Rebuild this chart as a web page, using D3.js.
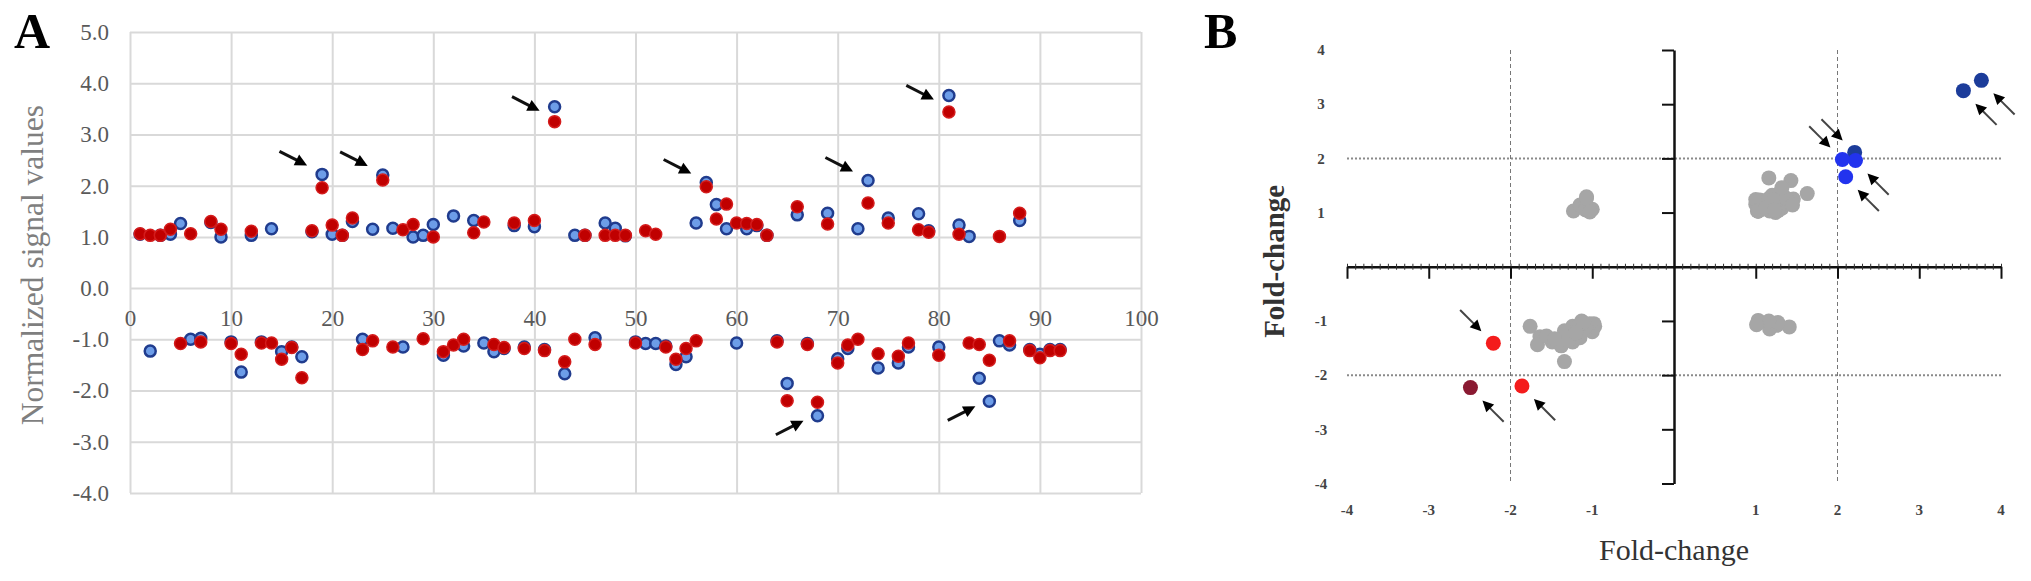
<!DOCTYPE html>
<html>
<head>
<meta charset="utf-8">
<script src="https://cdn.jsdelivr.net/npm/d3@7"></script>
<style>
  body { margin: 0; background: #fff; }
  svg text { font-family: "Liberation Serif", "Times New Roman", serif; }
</style>
</head>
<body>
<div id="graph"></div>
<script>
// probe number on the x axis of panel A
const probes = [1,2,3,4,5,6,7,8,9,10,11,12,13,14,15,16,17,18,19,20,21,22,23,24,25,26,27,28,29,30,
  31,32,33,34,35,36,37,38,39,40,41,42,43,44,45,46,47,48,49,50,51,52,53,54,55,56,57,58,59,60,
  61,62,63,64,65,66,67,68,69,70,71,72,73,74,75,76,77,78,79,80,81,82,83,84,85,86,87,88,89,90,91,92];

// blue series (also x of panel B)
const blueValues = [1.05,-1.23,1.03,1.05,1.26,-1.00,-0.98,1.28,1.00,-1.05,-1.64,1.03,-1.05,1.16,-1.24,-1.15,-1.34,1.10,2.22,1.05,
  1.03,1.30,-1.00,1.15,2.21,1.17,-1.15,1.00,1.03,1.24,-1.31,1.41,-1.13,1.32,-1.07,-1.24,-1.18,1.22,-1.15,1.20,
  -1.20,3.54,-1.67,1.03,1.03,-0.97,1.27,1.17,1.02,-1.05,-1.08,-1.08,-1.13,-1.49,-1.34,1.27,2.06,1.63,1.16,-1.07,
  1.16,1.22,1.03,-1.03,-1.86,1.43,-1.08,-2.49,1.46,-1.38,-1.18,1.16,2.10,-1.56,1.37,-1.46,-1.15,1.45,1.12,-1.15,
  3.76,1.23,1.01,-1.76,-2.21,-1.03,-1.11,1.32,-1.20,-1.29,-1.20,-1.20];

// red series (also y of panel B)
const redValues = [1.06,1.03,1.03,1.15,-1.08,1.06,-1.05,1.30,1.15,-1.08,-1.29,1.11,-1.07,-1.07,-1.39,-1.16,-1.75,1.12,1.96,1.23,
  1.03,1.37,-1.20,-1.03,2.11,-1.15,1.14,1.24,-0.99,1.00,-1.24,-1.11,-1.00,1.08,1.29,-1.10,-1.16,1.27,-1.18,1.32,
  -1.22,3.25,-1.44,-1.00,1.03,-1.10,1.03,1.03,1.03,-1.07,1.12,1.05,-1.15,-1.39,-1.18,-1.03,1.98,1.35,1.64,1.27,
  1.26,1.24,1.03,-1.05,-2.20,1.59,-1.10,-2.23,1.25,-1.46,-1.11,-1.00,1.66,-1.28,1.27,-1.33,-1.07,1.14,1.09,-1.31,
  3.44,1.05,-1.07,-1.10,-1.41,1.01,-1.03,1.46,-1.22,-1.36,-1.22,-1.22];

const xTicksA = [0,10,20,30,40,50,60,70,80,90,100];
const yTicksA = [-4,-3,-2,-1,0,1,2,3,4,5];
const ticksB = [-4,-3,-2,-1,1,2,3,4];
const cutoffsB = [-2,2];

// highlighted probes in panel B
const bothChanged = [25,42,68,81];
const oneChanged = [19,57,65,73,85];

// arrows: probe, kind
const arrowsA = [[19,"down"],[25,"down"],[42,"flat"],[57,"down"],[73,"down"],[81,"flat"],[68,"up"],[85,"up"]];
const arrowsB = [[81,"se"],[42,"se"],[25,"nw"],[57,"nw"],[19,"se"],[73,"se"],[85,"nw"],[68,"se"],[65,"se"]];

(function() {
    const width = 2031, height = 581;

    const svg = d3.select("#graph")
        .append("svg")
        .attr("width", width)
        .attr("height", height);

    svg.append("rect").attr("width", width).attr("height", height).attr("fill", "#fff");

    function arrow(g, tx, ty, angle, len, head, half, sw, col) {
        const a = angle * Math.PI / 180, ux = Math.cos(a), uy = Math.sin(a);
        const bx = tx - head * ux, by = ty - head * uy;
        g.append("line")
            .attr("x1", tx - len * ux).attr("y1", ty - len * uy)
            .attr("x2", bx + ux).attr("y2", by + uy)
            .attr("stroke", col).attr("stroke-width", sw);
        g.append("polygon")
            .attr("points", [[tx, ty], [bx - half * uy, by + half * ux], [bx + half * uy, by - half * ux]].join(" "))
            .attr("fill", "#000");
    }

    // ---------- panel A ----------
    const xA = d3.scaleLinear().domain([0, 100]).range([130, 1141]);
    const yA = d3.scaleLinear().domain([-4, 5]).range([493, 32]);

    const gA = svg.append("g");

    // vertical gridlines
    gA.append("g")
        .attr("transform", "translate(0," + yA(-4) + ")")
        .call(d3.axisBottom(xA).tickValues(xTicksA).tickSize(-(yA(-4) - yA(5))).tickFormat(""))
        .call(g => g.select(".domain").remove())
        .call(g => g.selectAll("line").attr("stroke", "#d9d9d9").attr("stroke-width", 2));

    // horizontal gridlines + labels
    gA.append("g")
        .attr("transform", "translate(" + xA(0) + ",0)")
        .call(d3.axisLeft(yA).tickValues(yTicksA).tickSize(-(xA(100) - xA(0))).tickPadding(21)
            .tickFormat(d => d.toFixed(1)))
        .call(g => g.select(".domain").remove())
        .call(g => g.selectAll("line").attr("stroke", "#d9d9d9").attr("stroke-width", 2))
        .call(g => g.selectAll("text").attr("font-size", 23).attr("fill", "#595959")
            .style("font-family", "Liberation Serif"));

    // x labels sit next to the zero line
    gA.append("g")
        .attr("transform", "translate(0," + yA(0) + ")")
        .call(d3.axisBottom(xA).tickValues(xTicksA).tickSize(0).tickPadding(22))
        .call(g => g.select(".domain").remove())
        .call(g => g.selectAll("text").attr("font-size", 23).attr("fill", "#595959")
            .style("font-family", "Liberation Serif"));

    gA.append("text")
        .attr("transform", "translate(43," + yA(0.45) + ") rotate(-90)")
        .attr("text-anchor", "middle")
        .attr("font-size", 31.5)
        .attr("fill", "#7f7f7f")
        .text("Normalized signal values");

    gA.append("text")
        .attr("x", 14).attr("y", 48)
        .attr("font-size", 50).attr("font-weight", "bold")
        .text("A");

    gA.selectAll(".blue")
        .data(probes)
        .enter()
        .append("circle")
        .attr("class", "blue")
        .attr("cx", (d) => xA(d))
        .attr("cy", (d, i) => yA(blueValues[i]))
        .attr("r", 5.5)
        .attr("fill", "#6d9de8")
        .attr("stroke", "#203c8e")
        .attr("stroke-width", 2.5);

    gA.selectAll(".red")
        .data(probes)
        .enter()
        .append("circle")
        .attr("class", "red")
        .attr("cx", (d) => xA(d))
        .attr("cy", (d, i) => yA(redValues[i]))
        .attr("r", 6)
        .attr("fill", "#c00000")
        .attr("stroke", "#d41c1c")
        .attr("stroke-width", 1.5);

    const kindsA = {down: [-15, -9, 27], flat: [-15, 4, 27], up: [-14, 5, -27]};
    arrowsA.forEach(([p, kind]) => {
        const k = kindsA[kind];
        arrow(gA, xA(p) + k[0], yA(blueValues[p - 1]) + k[1], k[2], 31, 12, 6, 3, "#111");
    });

    // ---------- panel B ----------
    const xB = d3.scaleLinear().domain([-4, 4]).range([1347, 2001]);
    const yB = d3.scaleLinear().domain([-4, 4]).range([483.5, 50]);

    const gB = svg.append("g");

    // cutoff lines
    gB.selectAll(".vcut")
        .data(cutoffsB)
        .enter()
        .append("line")
        .attr("x1", d => xB(d)).attr("x2", d => xB(d))
        .attr("y1", yB(4)).attr("y2", yB(-4))
        .attr("stroke", "#777").attr("stroke-width", 1).attr("stroke-dasharray", "4,3");

    gB.selectAll(".hcut")
        .data(cutoffsB)
        .enter()
        .append("line")
        .attr("x1", xB(-4)).attr("x2", xB(4))
        .attr("y1", d => yB(d)).attr("y2", d => yB(d))
        .attr("stroke", "#8a8a8a").attr("stroke-width", 2).attr("stroke-dasharray", "2,2");

    // horizontal axis with minor ticks
    gB.append("g")
        .attr("transform", "translate(0," + yB(0) + ")")
        .call(d3.axisBottom(xB).ticks(80).tickSize(3).tickSizeOuter(0).tickFormat(""))
        .call(g => g.selectAll("line").attr("stroke", "#333").attr("stroke-width", 1).attr("y1", -3))
        .call(g => g.select(".domain").attr("stroke", "#111").attr("stroke-width", 2.5));

    gB.append("g")
        .attr("transform", "translate(0," + yB(0) + ")")
        .call(d3.axisBottom(xB).tickValues(ticksB).tickSize(12).tickSizeOuter(0).tickFormat(""))
        .call(g => g.select(".domain").remove())
        .call(g => g.selectAll("line").attr("stroke", "#111").attr("stroke-width", 2));

    // vertical axis
    gB.append("g")
        .attr("transform", "translate(" + xB(0) + ",0)")
        .call(d3.axisLeft(yB).tickValues(ticksB).tickSize(12).tickSizeOuter(0).tickFormat(""))
        .call(g => g.select(".domain").attr("stroke", "#111").attr("stroke-width", 2.5))
        .call(g => g.selectAll("line").attr("stroke", "#111").attr("stroke-width", 2));

    gB.selectAll(".ylab")
        .data(ticksB)
        .enter()
        .append("text")
        .attr("x", 1321)
        .attr("y", d => yB(d))
        .attr("dy", "0.35em")
        .attr("text-anchor", "middle")
        .attr("font-size", 15).attr("font-weight", "bold").attr("fill", "#444")
        .text(d => d < 0 ? "-" + Math.abs(d) : d);

    gB.selectAll(".xlab")
        .data(ticksB)
        .enter()
        .append("text")
        .attr("x", d => xB(d))
        .attr("y", 510)
        .attr("dy", "0.35em")
        .attr("text-anchor", "middle")
        .attr("font-size", 15).attr("font-weight", "bold").attr("fill", "#444")
        .text(d => d < 0 ? "-" + Math.abs(d) : d);

    gB.append("text")
        .attr("x", xB(0)).attr("y", 560)
        .attr("text-anchor", "middle")
        .attr("font-size", 30).attr("fill", "#333")
        .text("Fold-change");

    gB.append("text")
        .attr("transform", "translate(1284," + yB(0.1) + ") rotate(-90)")
        .attr("text-anchor", "middle")
        .attr("font-size", 29).attr("font-weight", "bold").attr("fill", "#333")
        .text("Fold-change");

    gB.append("text")
        .attr("x", 1204).attr("y", 48)
        .attr("font-size", 50).attr("font-weight", "bold")
        .text("B");

    const highlighted = bothChanged.concat(oneChanged);
    const grayProbes = probes.filter(p => highlighted.indexOf(p) < 0);

    gB.selectAll(".gray")
        .data(grayProbes)
        .enter()
        .append("circle")
        .attr("cx", p => xB(blueValues[p - 1]))
        .attr("cy", p => yB(redValues[p - 1]))
        .attr("r", 7.5)
        .attr("fill", "#a6a6a6");

    function colourB(p) {
        const up = blueValues[p - 1] > 0;
        const strong = bothChanged.indexOf(p) >= 0;
        if (up) return strong ? "#1c3c9a" : "#2233ee";
        return strong ? "#8a1a32" : "#f41c1c";
    }

    gB.selectAll(".hl")
        .data(highlighted)
        .enter()
        .append("circle")
        .attr("cx", p => xB(blueValues[p - 1]))
        .attr("cy", p => yB(redValues[p - 1]))
        .attr("r", 7.5)
        .attr("fill", colourB);

    const kindsB = {se: [12, 13, -135], nw: [-12, -12, 45]};
    arrowsB.forEach(([p, kind]) => {
        const k = kindsB[kind];
        arrow(gB, xB(blueValues[p - 1]) + k[0], yB(redValues[p - 1]) + k[1], k[2], 30, 11, 5.5, 2, "#444");
    });
})();
</script>
</body>
</html>
